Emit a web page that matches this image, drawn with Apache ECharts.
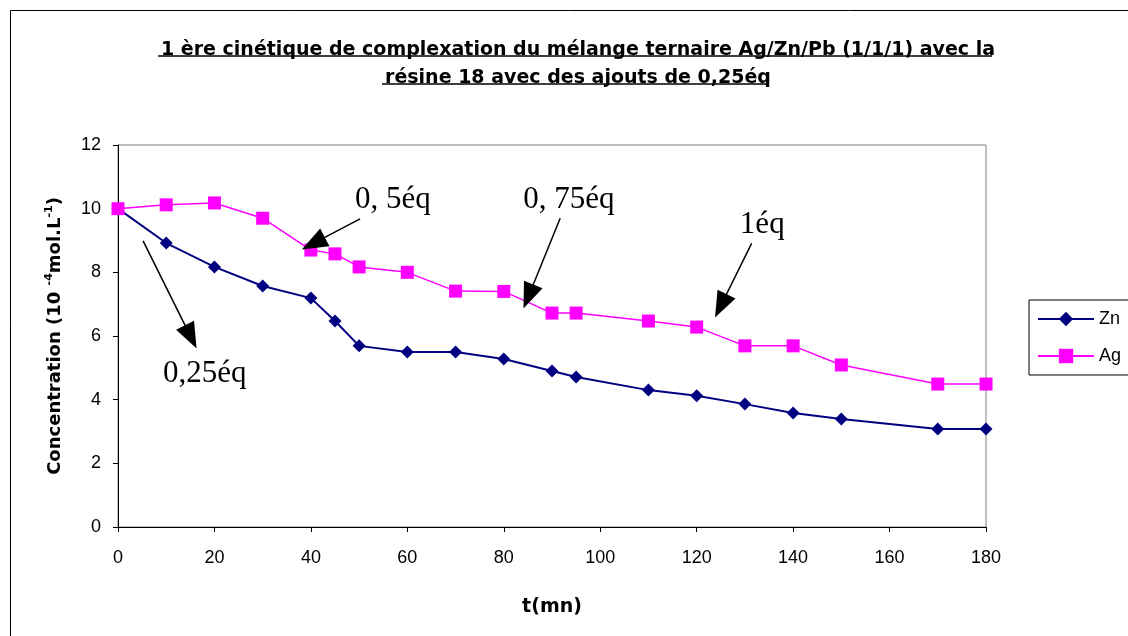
<!DOCTYPE html>
<html><head><meta charset="utf-8">
<script src="https://cdn.jsdelivr.net/npm/echarts@6/dist/echarts.min.js"></script>
<style>html,body{margin:0;padding:0;background:#fff}#c{width:1128px;height:636px}</style>
</head><body><div id="c"></div>
<script>
var times = [0,10,20,30,40,45,50,60,70,80,90,95,110,120,130,140,150,170,180];
var zn = [10,8.92,8.17,7.57,7.19,6.47,5.69,5.5,5.5,5.28,4.9,4.71,4.3,4.12,3.86,3.58,3.39,3.08,3.08];
var ag = [10,10.12,10.18,9.7,8.7,8.58,8.17,8.0,7.41,7.4,6.72,6.72,6.47,6.28,5.69,5.69,5.09,4.49,4.49];
var titleLines = ['1 ère cinétique de complexation du mélange ternaire Ag/Zn/Pb (1/1/1) avec la','résine 18 avec des ajouts de 0,25éq'];
// annotations: label, label position [t, conc], arrow start, arrow end
var noteLabels = ['0,25éq','0, 5éq','0, 75éq','1éq'];
var notePos = [[18.0,4.8],[57.0,10.27],[93.5,10.27],[133.6,9.49]];
var arrowFrom = [[5.2,8.99],[50.2,9.68],[91.7,9.7],[131.4,8.91]];
var arrowTo = [[15.1,5.97],[40.5,8.91],[85.1,7.24],[125.0,6.95]];

var chart = echarts.init(document.getElementById('c'));
var cv = document.createElement('canvas').getContext('2d');
var titleFamily = 'DejaVu Sans';
cv.font = 'bold 20px ' + titleFamily;
var titleSize = Math.round(20 * 834 / cv.measureText(titleLines[0]).width * 2) / 2;
cv.font = 'bold ' + titleSize + 'px ' + titleFamily;
var cx = 573;
var ulY = [56, 84];
var graphics = [{type:'rect', left:8, top:8, shape:{width:1300,height:800}, style:{fill:'none',stroke:'#000',lineWidth:1}, z:-1}];
titleLines.forEach(function(t,i){
  var w = cv.measureText(t).width;
  graphics.push({type:'line', shape:{x1:cx+2-w/2,y1:ulY[i],x2:cx+2+w/2,y2:ulY[i]}, style:{stroke:'#000',lineWidth:1.6}});
});
var zip = function(a,b){return a.map(function(v,i){return [v,b[i]];});};
chart.setOption({
  animation:false,
  backgroundColor:'#fff',
  title:{text:titleLines.join('\n'), left:cx, textAlign:'center', top:31,
    textStyle:{fontFamily:titleFamily,fontWeight:'bold',fontSize:titleSize,lineHeight:28,color:'#000'}},
  graphic:graphics,
  grid:{left:118,top:145,right:142,bottom:109,show:true,borderColor:'#808080',borderWidth:1,backgroundColor:'transparent'},
  legend:{data:['Zn','Ag'],orient:'vertical',left:1029,top:300,itemWidth:56,itemHeight:18,itemGap:19,
    borderColor:'#000',borderWidth:1,padding:[10,30,10,8],textStyle:{fontFamily:'Arial',fontSize:18,color:'#000'}},
  xAxis:{type:'value',min:0,max:180,interval:20,
    name:'t(mn)',nameLocation:'middle',nameGap:71,
    nameTextStyle:{fontFamily:'DejaVu Sans',fontWeight:'bold',fontSize:19,color:'#000'},
    axisLine:{lineStyle:{color:'#000'}},axisTick:{show:true,length:5,lineStyle:{color:'#000'}},
    axisLabel:{fontFamily:'Arial',fontSize:18,color:'#000',margin:22},splitLine:{show:false}},
  yAxis:{type:'value',min:0,max:12,interval:2,
    name:'{a|Concentration (10 }{s|-4}{a|mol.L}{s|-1}{a|)}',nameLocation:'middle',nameGap:52,nameRotate:90,
    nameTextStyle:{rich:{a:{fontFamily:'DejaVu Sans',fontWeight:'bold',fontSize:18,color:'#000',lineHeight:22},
      s:{fontFamily:'DejaVu Sans',fontWeight:'bold',fontSize:11,color:'#000',verticalAlign:'top',lineHeight:22,padding:[0,0,9,0]}}},
    axisLine:{show:true,lineStyle:{color:'#000'}},axisTick:{show:true,length:5,lineStyle:{color:'#000'}},
    axisLabel:{fontFamily:'Arial',fontSize:18,color:'#000',margin:17},splitLine:{show:false}},
  series:[
    {name:'Zn',type:'line',data:zip(times,zn),symbol:'diamond',symbolSize:13,
      lineStyle:{color:'#000080',width:2},itemStyle:{color:'#000080'}},
    {name:'Ag',type:'line',data:zip(times,ag),symbol:'rect',symbolSize:13,
      lineStyle:{color:'#FF00FF',width:1.5},itemStyle:{color:'#FF00FF'}},
    {name:'notes',type:'line',data:[],silent:true,
      markLine:{silent:true,symbol:['none','triangle'],symbolSize:[20,26],animation:false,
        lineStyle:{color:'#000',width:1.5,type:'solid'},label:{show:false},
        data:arrowFrom.map(function(f,i){return [{coord:f},{coord:arrowTo[i]}];})},
      markPoint:{silent:true,symbol:'circle',symbolSize:0,
        label:{show:true,position:'inside',fontFamily:'Liberation Serif, Times New Roman, serif',fontSize:31,color:'#000',
          formatter:function(p){return p.name;}},
        data:notePos.map(function(p,i){return {name:noteLabels[i],coord:p};})}}
  ]
});
</script></body></html>
